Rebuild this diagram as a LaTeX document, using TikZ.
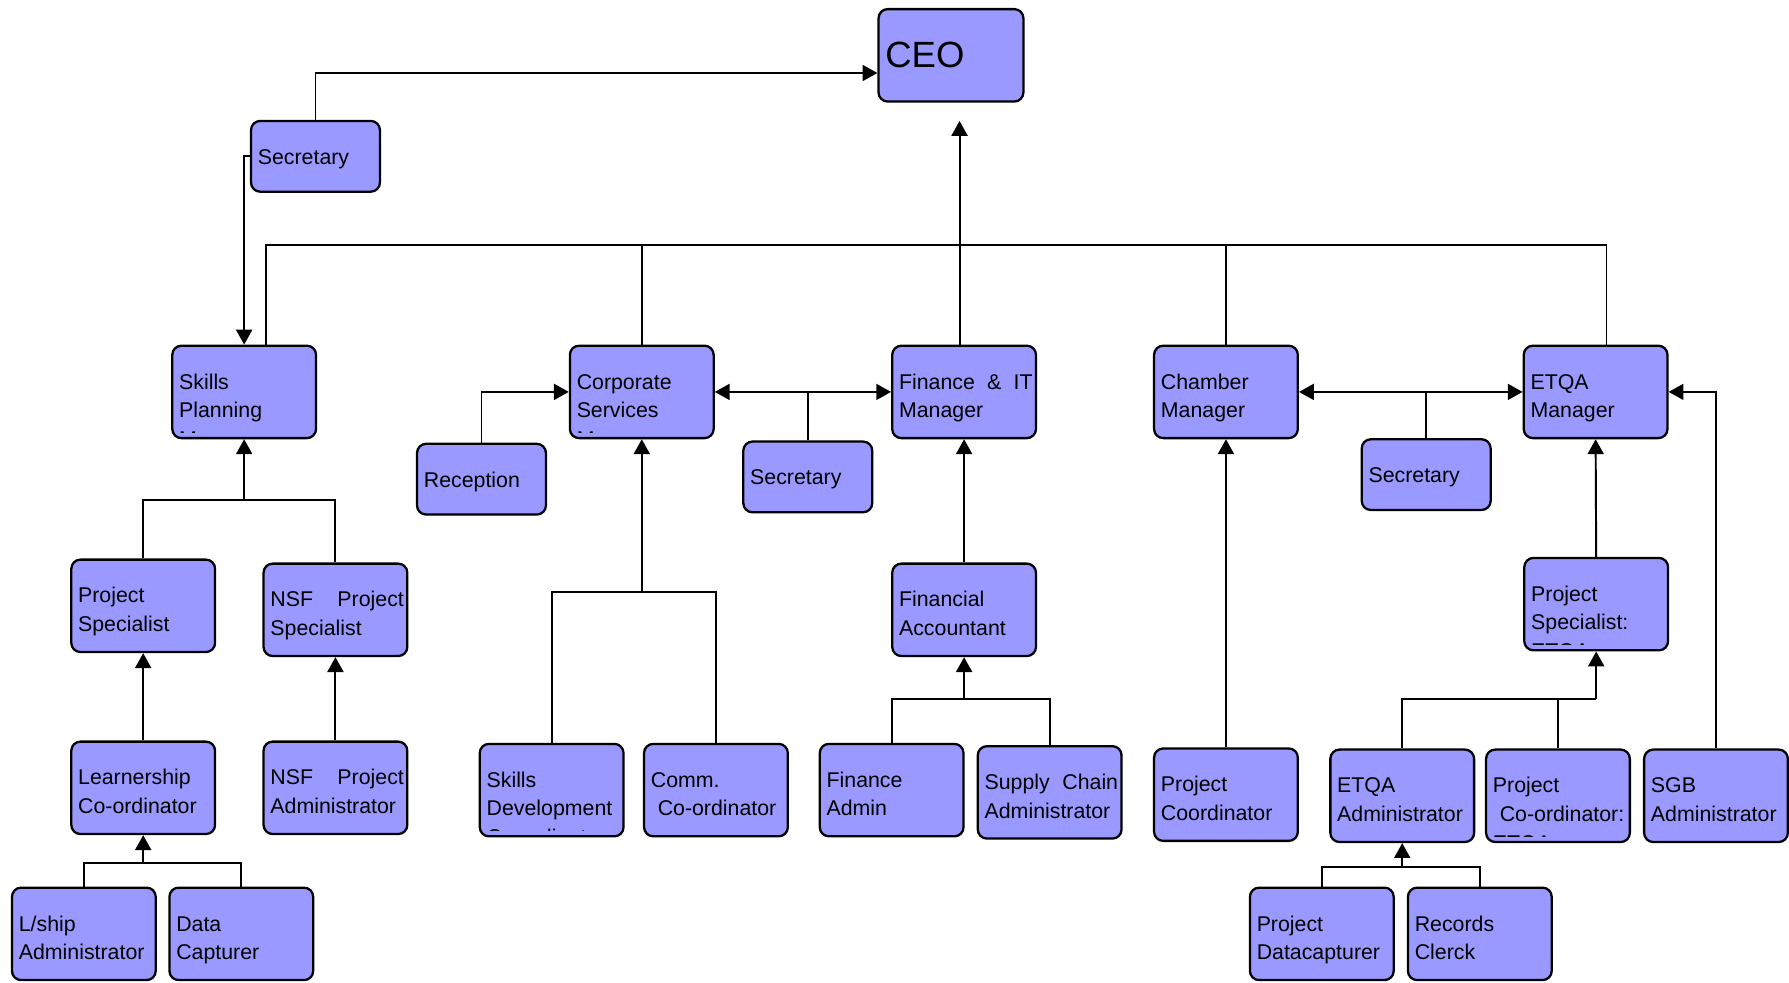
\documentclass[tikz,border=0pt]{standalone}
\usepackage{fontspec}
\setmainfont{Liberation Sans}
\usetikzlibrary{arrows.meta}

\definecolor{boxblue}{HTML}{9999FF}

\tikzset{
  box/.style={draw, fill=boxblue, line width=1pt, rounded corners=4pt, inner sep=0pt},
  postxt/.style={anchor=north west, draw=none, fill=none, inner sep=0pt,
    minimum width=0pt, minimum height=0pt, text width=58.5pt, align=left,
    font=\fontsize{9.35}{12.5}\selectfont, execute at begin node={\noindent\strut}},
  post/.style={box, minimum width=63pt, minimum height=40.5pt,
    path picture={
      \clip ([yshift=2.5pt]path picture bounding box.south west) rectangle (path picture bounding box.north east);
      \node[postxt] at ([shift={(2.5pt,-9.75pt)}]path picture bounding box.north west) {#1};}},
  smallpost/.style={post={#1}, minimum width=56.5pt, minimum height=31pt},
  link/.style={line width=0.85pt},
}

\begin{document}
\begin{tikzpicture}[x=0.5pt, y=-0.5pt, >={Triangle[length=6.5pt,width=7pt]}]
\useasboundingbox (0,0) rectangle (1568,861);

% Top of the chart
\node[box, minimum width=63.5pt, minimum height=40.5pt, text width=57.5pt, align=left,
  inner xsep=3pt, font=\fontsize{16}{19}\selectfont] (ceo) at (833.5,48.5) {CEO};
\node[smallpost={Secretary}] (sec1) at (276.5,137) {};

% Managers and their secretaries
\node[post={Skills\\Planning\\Manager}] (skp) at (214,343.5) {};
\node[post={Corporate\\Services\\Manager}] (cor) at (562.5,343.5) {};
\node[post={Finance\hfill\&\hfill IT\\Manager}] (fin) at (845,343.5) {};
\node[post={Chamber\\Manager}] (cha) at (1074.5,343.5) {};
\node[post={ETQA\\Manager}] (etq) at (1398.5,343.5) {};
\node[smallpost={Reception}] (rec) at (422,420) {};
\node[smallpost={Secretary}] (sec2) at (708,418) {};
\node[smallpost={Secretary}] (sec3) at (1250,416) {};

% Second row
\node[post={Project\\Specialist}] (psp) at (125.5,531) {};
\node[post={NSF\hfill Project\\Specialist}] (nps) at (294,534.5) {};
\node[post={Financial\\Accountant}] (fac) at (845,534.5) {};
\node[post={Project\\Specialist:\\ETQA}] (pse) at (1399,529.5) {};

% Third row
\node[post={Learnership\\Co-ordinator}] (lco) at (125.5,690.5) {};
\node[post={NSF\hfill Project\\Administrator}] (npa) at (294,690.5) {};
\node[post={Skills\\Development\\Co-ordinator}] (sdc) at (483.5,692.5) {};
\node[post={Comm.\\\hspace*{3pt}Co-ordinator}] (cco) at (627.5,692.5) {};
\node[post={Finance\\Admin}] (fad) at (781.5,692.5) {};
\node[post={Supply\hfill Chain\\Administrator}] (sca) at (920,694.5) {};
\node[post={Project\\Coordinator}] (pco) at (1074.5,696.5) {};
\node[post={ETQA\\Administrator}] (ead) at (1229,697.5) {};
\node[post={Project\\\hspace*{3pt}Co-ordinator:\\ETQA}] (pce) at (1365.5,697.5) {};
\node[post={SGB\\Administrator}] (sgb) at (1504,697.5) {};

% Bottom row
\node[post={L/ship\\Administrator}] (lad) at (73.5,818.5) {};
\node[post={Data\\Capturer}] (dca) at (211.5,818.5) {};
\node[post={Project\\Datacapturer}] (pdc) at (1158.5,818.5) {};
\node[post={Records\\Clerck}] (rcl) at (1297,818.5) {};

% Define coordinates.
\coordinate (bus) at (0,215);
\coordinate (skptop) at ([xshift=9.5pt]skp.north);
\coordinate (etqtop) at ([xshift=4.75pt]etq.north);
\coordinate (fintop) at ([xshift=-2pt]fin.north);
\coordinate (ceogap) at ([yshift=-8pt]ceo.south);
\coordinate (skpj) at (214,438);
\coordinate (lcoj) at (125.5,756);
\coordinate (corj) at (562.5,519);
\coordinate (facj) at (845,613);
\coordinate (psej) at (1399,613);
\coordinate (eadj) at (1229,760);

% Lines up to the CEO
\draw[link,->] (sec1.north) |- ([yshift=-7.75pt]ceo.west);
\draw[link,->] (sec1.west) -| (skp.north);
\draw[link] (skptop) |- (bus -| etqtop) -- (etqtop);
\draw[link] (cor.north) -- (cor.north |- bus);
\draw[link] (cha.north) -- (cha.north |- bus);
\draw[link,->] (fintop) -- (fintop |- ceogap);

% Links between managers
\draw[link,->] (rec.north) |- (cor.west);
\draw[link,<->] (cor.east) -- (fin.west);
\draw[link] (sec2.north) -- (sec2.north |- cor.east);
\draw[link,<->] (cha.east) -- (etq.west);
\draw[link] (sec3.north) -- (sec3.north |- cha.east);
\draw[link,->] (sgb.north) |- (etq.east);

% Skills planning branch
\draw[link] (psp.north) |- (skpj -| nps.north) -- (nps.north);
\draw[link,->] (skpj) -- (skp.south);
\draw[link,->] (lco.north) -- (psp.south);
\draw[link,->] (npa.north) -- (nps.south);
\draw[link] (lad.north) |- (lcoj -| dca.north) -- (dca.north);
\draw[link,->] (lcoj) -- (lco.south);

% Corporate and finance branches
\draw[link] (sdc.north) |- (corj -| cco.north) -- (cco.north);
\draw[link,->] (corj) -- (cor.south);
\draw[link,->] (fac.north) -- (fin.south);
\draw[link] (fad.north) |- (facj -| sca.north) -- (sca.north);
\draw[link,->] (facj) -- (fac.south);

% Chamber and ETQA branches
\draw[link,->] (pco.north) -- (cha.south);
\draw[link,->] (pse.north) -- (etq.south);
\draw[link] (ead.north) |- (psej);
\draw[link] (pce.north) -- (pce.north |- psej);
\draw[link,->] (psej) -- (pse.south);
\draw[link] (pdc.north) |- (eadj -| rcl.north) -- (rcl.north);
\draw[link,->] (eadj) -- (ead.south);

\end{tikzpicture}
\end{document}
